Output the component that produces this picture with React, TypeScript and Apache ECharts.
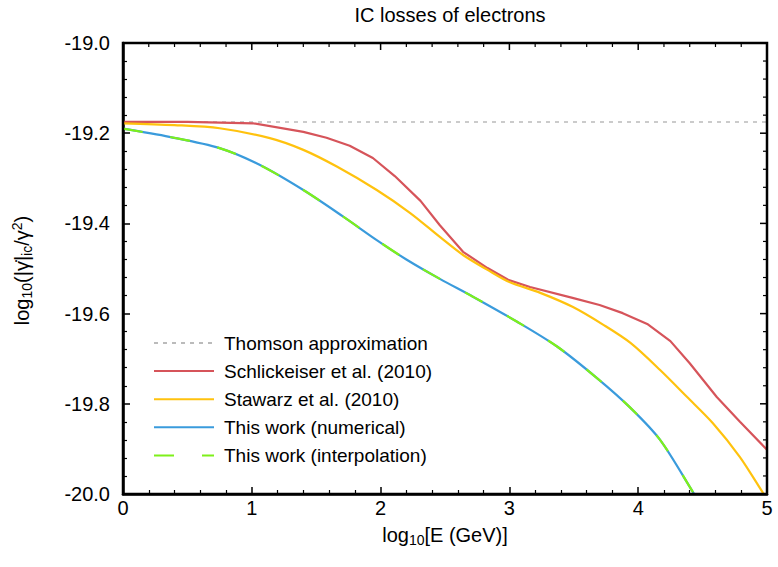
import React, { useEffect, useRef } from "react";
import * as echarts from "echarts";

const titleText = "IC losses of electrons";
const xAxisTitle = "log{s|10}[E (GeV)]";
const yAxisTitle = "log{s|10}(|γ̇|{s|ic}/γ{p|2})";
const seriesNames = [
  "Thomson approximation",
  "Schlickeiser et al. (2010)",
  "Stawarz et al. (2010)",
  "This work (numerical)",
  "This work (interpolation)",
];

const thomsonX = [0, 5];
const thomsonY = [-19.175, -19.175];

const schlX = [0, 0.5, 1.01, 1.4, 1.58, 1.76, 1.94, 2.11, 2.31, 2.46, 2.64, 2.83, 2.99, 3.16, 3.49, 3.7, 3.88, 4.07, 4.25, 4.4, 4.61, 4.79, 5.0];
const schlY = [-19.175, -19.175, -19.178, -19.197, -19.21, -19.228, -19.255, -19.295, -19.35, -19.404, -19.463, -19.499, -19.525, -19.541, -19.565, -19.581, -19.599, -19.623, -19.661, -19.71, -19.785, -19.84, -19.902];

const stawX = [0, 0.4, 0.75, 1.14, 1.4, 1.66, 1.97, 2.23, 2.46, 2.64, 2.83, 3.0, 3.24, 3.49, 3.73, 3.94, 4.17, 4.38, 4.58, 4.79, 4.97, 5.0];
const stawY = [-19.178, -19.182, -19.189, -19.211, -19.237, -19.274, -19.326, -19.377, -19.43, -19.47, -19.503, -19.53, -19.554, -19.585, -19.625, -19.665, -19.725, -19.785, -19.843, -19.918, -19.998, -20.01];

const workX = [0, 0.36, 0.75, 1.06, 1.4, 1.71, 1.97, 2.2, 2.46, 2.72, 3.06, 3.37, 3.68, 3.94, 4.17, 4.43, 4.5];
const workY = [-19.19, -19.208, -19.233, -19.27, -19.326, -19.385, -19.437, -19.48, -19.523, -19.563, -19.618, -19.673, -19.743, -19.809, -19.88, -19.998, -20.03];

const X_RANGE = { min: 0, max: 5, interval: 1 };
const Y_RANGE = { min: -20, max: -19, interval: 0.2 };
const MINOR_SPLIT = 5;

const zip = (xs: number[], ys: number[]) => xs.map((x, i) => [x, ys[i]]);

const FONT = "Liberation Sans, Arial, sans-serif";
const RICH = {
  s: { fontSize: 14, padding: [10, 0, 0, 0], fontFamily: FONT, fill: "#000", color: "#000" },
  p: { fontSize: 14, padding: [0, 0, 10, 0], fontFamily: FONT, fill: "#000", color: "#000" },
};

function axisBase(range: { min: number; max: number; interval: number }, position: string) {
  return {
    type: "value",
    ...range,
    position,
    axisLine: { show: true, onZero: false, lineStyle: { color: "#000", width: 2.5 } },
    axisTick: { show: true, inside: true, length: 7, lineStyle: { color: "#000", width: 1.5 } },
    minorTick: { show: true, splitNumber: MINOR_SPLIT, length: 4, lineStyle: { color: "#000", width: 1.2 } },
    splitLine: { show: false },
  };
}

export default function App() {
  const ref = useRef<HTMLDivElement>(null);
  useEffect(() => {
    if (!ref.current) return;
    const chart = echarts.init(ref.current, undefined, { renderer: "svg" });
    chart.setOption({
      animation: false,
      title: {
        text: titleText,
        left: 445,
        textAlign: "center",
        top: 0,
        textStyle: { fontSize: 20, fontWeight: "normal", color: "#000", fontFamily: FONT },
      },
      grid: { left: 123, right: 11, top: 43, bottom: 73 },
      legend: {
        orient: "vertical",
        left: 148,
        top: 328,
        itemWidth: 60,
        itemHeight: 20,
        itemGap: 8.1,
        itemStyle: { color: "rgba(0,0,0,0)", borderColor: "rgba(0,0,0,0)", borderWidth: 0, opacity: 0 },
        textStyle: { fontSize: 19, lineHeight: 20, color: "#000", fontFamily: FONT, padding: [0, 0, 0, 5] },
        data: seriesNames,
      },
      xAxis: {
        ...axisBase(X_RANGE, "bottom"),
        axisLabel: { fontSize: 20, color: "#000", margin: 4, fontFamily: FONT },
      },
      yAxis: {
        ...axisBase(Y_RANGE, "left"),
        axisLabel: {
          fontSize: 20,
          color: "#000",
          margin: 13,
          fontFamily: FONT,
          formatter: (v: number) => v.toFixed(1),
        },
      },
      series: [
        {
          name: seriesNames[0],
          type: "line",
          data: zip(thomsonX, thomsonY),
          symbol: "none",
          lineStyle: { color: "#bbbbbb", width: 1.5, type: [4, 5] },
          itemStyle: { color: "#bbbbbb" },
        },
        {
          name: seriesNames[1],
          type: "line",
          data: zip(schlX, schlY),
          symbol: "none",
          lineStyle: { color: "#d6545a", width: 2.2 },
          itemStyle: { color: "#d6545a" },
        },
        {
          name: seriesNames[2],
          type: "line",
          data: zip(stawX, stawY),
          symbol: "none",
          smooth: 0.3,
          lineStyle: { color: "#ffc20e", width: 2.2 },
          itemStyle: { color: "#ffc20e" },
        },
        {
          name: seriesNames[3],
          type: "line",
          data: zip(workX, workY),
          symbol: "none",
          smooth: 0.3,
          lineStyle: { color: "#3a9bdc", width: 2.2 },
          itemStyle: { color: "#3a9bdc" },
        },
        {
          name: seriesNames[4],
          type: "line",
          data: zip(workX, workY),
          symbol: "none",
          smooth: 0.3,
          lineStyle: { color: "#7ef01a", width: 2.2, type: [20, 28], dashOffset: 0 },
          itemStyle: { color: "#7ef01a" },
        },
      ],
    });

    // Frame and mirrored ticks (top/right), positioned through the chart's own scales.
    const toPx = (x: number, y: number) =>
      chart.convertToPixel({ gridIndex: 0 }, [x, y]) as number[];
    const tl = toPx(X_RANGE.min, Y_RANGE.max);
    const br = toPx(X_RANGE.max, Y_RANGE.min);
    const graphics: any[] = [
      {
        type: "text",
        x: (tl[0] + br[0]) / 2,
        y: 535,
        style: {
          text: xAxisTitle,
          fontSize: 20,
          fontFamily: FONT,
          fill: "#000",
          align: "center",
          verticalAlign: "middle",
          rich: RICH,
        },
      },
      {
        type: "text",
        x: 22,
        y: (tl[1] + br[1]) / 2 + 2,
        rotation: Math.PI / 2,
        style: {
          text: yAxisTitle,
          fontSize: 20,
          fontFamily: FONT,
          fill: "#000",
          align: "center",
          verticalAlign: "middle",
          rich: RICH,
        },
      },
      {
        type: "rect",
        z: 100,
        shape: { x: tl[0], y: tl[1], width: br[0] - tl[0], height: br[1] - tl[1] },
        style: { fill: "none", stroke: "#000", lineWidth: 2.5 },
      },
    ];
    const nX = ((X_RANGE.max - X_RANGE.min) / X_RANGE.interval) * MINOR_SPLIT;
    for (let i = 0; i <= nX; i++) {
      const v = X_RANGE.min + (i * X_RANGE.interval) / MINOR_SPLIT;
      const px = toPx(v, Y_RANGE.max)[0];
      const len = i % MINOR_SPLIT === 0 ? 7 : 4;
      graphics.push({
        type: "line",
        z: 100,
        shape: { x1: px, y1: tl[1], x2: px, y2: tl[1] + len },
        style: { stroke: "#000", lineWidth: i % MINOR_SPLIT === 0 ? 1.5 : 1.2 },
      });
    }
    const nY = Math.round(((Y_RANGE.max - Y_RANGE.min) / Y_RANGE.interval) * MINOR_SPLIT);
    for (let i = 0; i <= nY; i++) {
      const v = Y_RANGE.min + (i * Y_RANGE.interval) / MINOR_SPLIT;
      const py = toPx(X_RANGE.max, v)[1];
      const len = i % MINOR_SPLIT === 0 ? 7 : 4;
      graphics.push({
        type: "line",
        z: 100,
        shape: { x1: br[0], y1: py, x2: br[0] - len, y2: py },
        style: { stroke: "#000", lineWidth: i % MINOR_SPLIT === 0 ? 1.5 : 1.2 },
      });
    }
    chart.setOption({ graphic: graphics });

    return () => chart.dispose();
  }, []);
  return (
    <div
      ref={ref}
      style={{ position: "fixed", left: 0, top: 0, width: 778, height: 567, background: "#fff" }}
    />
  );
}
